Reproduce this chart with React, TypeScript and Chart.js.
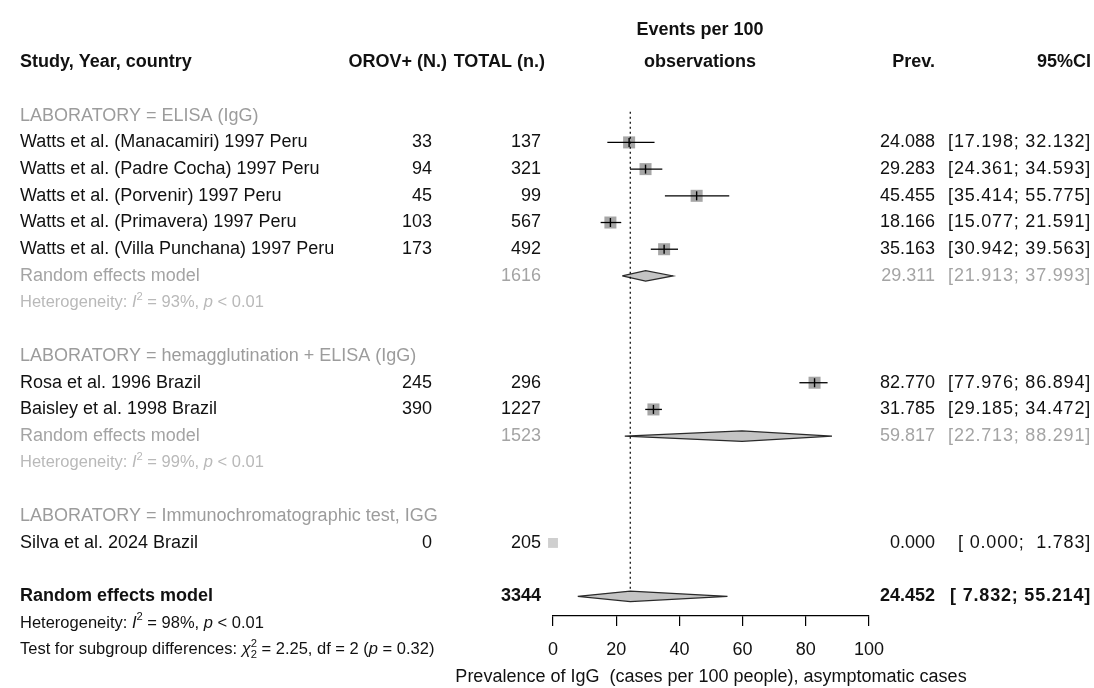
import { useEffect, useRef } from "react";
import { Chart, registerables } from "chart.js";

Chart.register(...registerables);

const FAM = '"Liberation Sans", Arial, Helvetica, sans-serif';

// ---------- data ----------
const studyLabels = [
  "Watts et al. (Manacamiri) 1997 Peru",
  "Watts et al. (Padre Cocha) 1997 Peru",
  "Watts et al. (Porvenir) 1997 Peru",
  "Watts et al. (Primavera) 1997 Peru",
  "Watts et al. (Villa Punchana) 1997 Peru",
  "Rosa et al. 1996 Brazil",
  "Baisley et al. 1998 Brazil",
  "Silva et al. 2024 Brazil",
];
const studyGroup = [0, 0, 0, 0, 0, 1, 1, 2];
const studyEvents = [33, 94, 45, 103, 173, 245, 390, 0];
const studyTotals = [137, 321, 99, 567, 492, 296, 1227, 205];
const studyPrev = [24.088, 29.283, 45.455, 18.166, 35.163, 82.77, 31.785, 0.0];
const studyLower = [17.198, 24.361, 35.414, 15.077, 30.942, 77.976, 29.185, 0.0];
const studyUpper = [32.132, 34.593, 55.775, 21.591, 39.563, 86.894, 34.472, 1.783];

const groupLabels = [
  "LABORATORY = ELISA (IgG)",
  "LABORATORY = hemagglutination + ELISA (IgG)",
  "LABORATORY = Immunochromatographic test, IGG",
];
const groupTotals = [1616, 1523, 205];
const groupPrev = [29.311, 59.817, 0.0];
const groupLower = [21.913, 22.713, 0.0];
const groupUpper = [37.993, 88.291, 1.783];
const groupI2 = [93, 99, 0];
const groupHetP = ["< 0.01", "< 0.01", ""];

const overallLabel = "Random effects model";
const overallTotal = 3344;
const overallPrev = 24.452;
const overallLower = 7.832;
const overallUpper = 55.214;
const overallI2 = 98;
const overallHetP = "< 0.01";
const subgroupChi2 = "2.25";
const subgroupDf = 2;
const subgroupP = "0.32";

const xTicks = [0, 20, 40, 60, 80, 100];
const xTitle = "Prevalence of IgG  (cases per 100 people), asymptomatic cases";

// ---------- layout ----------
const W = 1094;
const H = 688;
const PLOT_L = 553;
const PLOT_R = 869;
const ROW0_Y = 112;
const ROW_H = 26.9;
const AXIS_Y = 616;
const TOP_PAD = 4;
const Y_MIN = (TOP_PAD - ROW0_Y) / ROW_H;
const Y_MAX = (AXIS_Y - ROW0_Y) / ROW_H;
const DH = 5.3 / ROW_H; // diamond half height in rows

const X_LEFT = 20;
const X_EVENTS = 432;
const X_EVENTS_HEAD = 447;
const X_TOTAL = 541;
const X_TOTAL_HEAD = 545;
const X_SMLAB = 700;
const X_PREV = 935;
const X_CI = 1091;

const FS = 18;
const FS_HET = 16.5;
const BLACK = "#111111";
const GREY_LAB = "#9c9c9c";
const GREY_RE = "#a4a4a4";
const GREY_HET = "#b9b9b9";

const f = (size: number, weight = "normal", italic = false) =>
  `${italic ? "italic " : ""}${weight} ${size}px ${FAM}`;

const fmt = (v: number) => v.toFixed(3);
const pad = (s: string, n: number) => (s.length < n ? " ".repeat(n - s.length) + s : s);
const ciText = (lo: number, hi: number) => `[${pad(fmt(lo), 6)}; ${pad(fmt(hi), 6)}]`;

// ---------- rows ----------
type Row = { kind: string; idx: number; r: number };
const rows: Row[] = [];
const studyRow: number[] = [];
const groupRERow: number[] = [];
{
  let r = 0;
  groupLabels.forEach((_, g) => {
    rows.push({ kind: "group", idx: g, r: r++ });
    const members = studyLabels.map((_, i) => i).filter((i) => studyGroup[i] === g);
    members.forEach((i) => {
      studyRow[i] = r;
      rows.push({ kind: "study", idx: i, r: r++ });
    });
    if (members.length > 1) {
      groupRERow[g] = r;
      rows.push({ kind: "re", idx: g, r: r++ });
      rows.push({ kind: "het", idx: g, r: r++ });
    } else {
      groupRERow[g] = -1;
    }
    r++;
  });
  rows.push({ kind: "overall", idx: 0, r: r });
  rows.push({ kind: "ohet", idx: 0, r: r + 1 });
  rows.push({ kind: "test", idx: 0, r: r + 2 });
}
const overallRow = rows.find((x) => x.kind === "overall")!.r;

type Part = { t: string; font: string; dy?: number; noAdvance?: boolean };
function drawParts(
  ctx: CanvasRenderingContext2D,
  parts: Part[],
  x: number,
  y: number,
  align: "left" | "right" | "center",
  color: string,
  spacing = 0
) {
  const c: any = ctx;
  c.letterSpacing = spacing + "px";
  let total = 0;
  parts.forEach((p) => {
    ctx.font = p.font;
    if (!p.noAdvance) total += ctx.measureText(p.t).width;
  });
  let cx = align === "left" ? x : align === "right" ? x - total : x - total / 2;
  ctx.fillStyle = color;
  ctx.textBaseline = "middle";
  ctx.textAlign = "left";
  parts.forEach((p) => {
    ctx.font = p.font;
    ctx.fillText(p.t, cx, y + (p.dy || 0));
    if (!p.noAdvance) cx += ctx.measureText(p.t).width;
  });
  c.letterSpacing = "0px";
}
function txt(
  ctx: CanvasRenderingContext2D,
  t: string,
  x: number,
  y: number,
  align: "left" | "right" | "center",
  font: string,
  color: string,
  spacing = 0
) {
  drawParts(ctx, [{ t, font }], x, y, align, color, spacing);
}

const CI_SP = 0.8;

function hetParts(i2: number, p: string, size: number): Part[] {
  return [
    { t: "Heterogeneity: ", font: f(size) },
    { t: "I", font: f(size, "normal", true) },
    { t: "2", font: f(size * 0.68), dy: -6 },
    { t: ` = ${i2}%, `, font: f(size) },
    { t: "p", font: f(size, "normal", true) },
    { t: ` ${p}`, font: f(size) },
  ];
}

const textPlugin = {
  id: "forestText",
  beforeDraw(chart: any) {
    const ctx = chart.ctx as CanvasRenderingContext2D;
    ctx.save();
    ctx.fillStyle = "#ffffff";
    ctx.fillRect(0, 0, chart.width, chart.height);
    ctx.restore();
  },
  afterDraw(chart: any) {
    const ctx = chart.ctx as CanvasRenderingContext2D;
    const ys = chart.scales.y;
    const Y = (r: number) => ys.getPixelForValue(r);
    ctx.save();
    // headers
    const hb = f(FS, "bold");
    txt(ctx, "Study, Year, country", X_LEFT, Y(-2), "left", hb, BLACK);
    txt(ctx, "OROV+ (N.)", X_EVENTS_HEAD, Y(-2), "right", hb, BLACK);
    txt(ctx, "TOTAL (n.)", X_TOTAL_HEAD, Y(-2), "right", hb, BLACK);
    txt(ctx, "Events per 100", X_SMLAB, Y(-3.2), "center", hb, BLACK);
    txt(ctx, "observations", X_SMLAB, Y(-2), "center", hb, BLACK);
    txt(ctx, "Prev.", X_PREV, Y(-2), "right", hb, BLACK);
    txt(ctx, "95%CI", X_CI, Y(-2), "right", hb, BLACK);

    rows.forEach((row) => {
      const y = Y(row.r);
      if (row.kind === "group") {
        txt(ctx, groupLabels[row.idx], X_LEFT, y, "left", f(FS), GREY_LAB);
      } else if (row.kind === "study") {
        const i = row.idx;
        const fn = f(FS);
        txt(ctx, studyLabels[i], X_LEFT, y, "left", fn, BLACK);
        txt(ctx, String(studyEvents[i]), X_EVENTS, y, "right", fn, BLACK);
        txt(ctx, String(studyTotals[i]), X_TOTAL, y, "right", fn, BLACK);
        txt(ctx, fmt(studyPrev[i]), X_PREV, y, "right", fn, BLACK);
        txt(ctx, ciText(studyLower[i], studyUpper[i]), X_CI, y, "right", fn, BLACK, CI_SP);
      } else if (row.kind === "re") {
        const g = row.idx;
        const fn = f(FS);
        txt(ctx, "Random effects model", X_LEFT, y, "left", fn, GREY_RE);
        txt(ctx, String(groupTotals[g]), X_TOTAL, y, "right", fn, GREY_RE);
        txt(ctx, fmt(groupPrev[g]), X_PREV, y, "right", fn, GREY_RE);
        txt(ctx, ciText(groupLower[g], groupUpper[g]), X_CI, y, "right", fn, GREY_RE, CI_SP);
      } else if (row.kind === "het") {
        drawParts(ctx, hetParts(groupI2[row.idx], groupHetP[row.idx], FS_HET), X_LEFT, y, "left", GREY_HET);
      } else if (row.kind === "overall") {
        const fb = f(FS, "bold");
        txt(ctx, overallLabel, X_LEFT, y, "left", fb, BLACK);
        txt(ctx, String(overallTotal), X_TOTAL, y, "right", fb, BLACK);
        txt(ctx, fmt(overallPrev), X_PREV, y, "right", fb, BLACK);
        txt(ctx, ciText(overallLower, overallUpper), X_CI, y, "right", fb, BLACK, CI_SP);
      } else if (row.kind === "ohet") {
        drawParts(ctx, hetParts(overallI2, overallHetP, FS_HET), X_LEFT, y, "left", BLACK);
      } else if (row.kind === "test") {
        const s = FS_HET;
        drawParts(
          ctx,
          [
            { t: "Test for subgroup differences: ", font: f(s) },
            { t: "χ", font: f(s, "normal", true) },
            { t: "2", font: f(s * 0.68), dy: -6, noAdvance: true },
            { t: "2", font: f(s * 0.68), dy: 5 },
            { t: ` = ${subgroupChi2}, df = ${subgroupDf} (`, font: f(s) },
            { t: "p", font: f(s, "normal", true) },
            { t: ` = ${subgroupP})`, font: f(s) },
          ],
          X_LEFT,
          y,
          "left",
          BLACK
        );
      }
    });

    // axis title
    txt(ctx, xTitle, (chart.chartArea.left + chart.chartArea.right) / 2, 677, "center", f(FS), BLACK);
    ctx.restore();
  },
};

export default function App() {
  const ref = useRef<HTMLCanvasElement | null>(null);
  useEffect(() => {
    if (!ref.current) return;
    Chart.defaults.font.family = FAM;
    Chart.defaults.color = BLACK;

    const datasets: any[] = [];

    // squares
    datasets.push({
      label: "squares",
      data: studyPrev.map((p, i) => ({ x: p, y: studyRow[i] })),
      pointStyle: "rect",
      pointRadius: (c: any) => (studyEvents[c.dataIndex] === 0 ? 7 : 8.5),
      pointBackgroundColor: (c: any) => (studyEvents[c.dataIndex] === 0 ? "#cfcfcf" : "#a6a6a6"),
      pointBorderWidth: 0,
      showLine: false,
      clip: false,
      order: 10,
    });

    // CI lines
    studyPrev.forEach((_, i) => {
      if (studyUpper[i] - studyLower[i] < 3) return;
      datasets.push({
        label: "ci" + i,
        data: [
          { x: studyLower[i], y: studyRow[i] },
          { x: studyUpper[i], y: studyRow[i] },
        ],
        showLine: true,
        borderColor: "#000",
        borderWidth: 1.3,
        pointRadius: 0,
        clip: false,
        order: 6,
      });
    });

    // estimate marks
    const markIdx = studyPrev.map((_, i) => i).filter((i) => studyUpper[i] - studyLower[i] >= 3);
    datasets.push({
      label: "marks",
      data: markIdx.map((i) => ({ x: studyPrev[i], y: studyRow[i] })),
      pointStyle: "line",
      pointRotation: 90,
      pointRadius: 4.5,
      pointBorderColor: "#000",
      pointBorderWidth: 1.4,
      showLine: false,
      clip: false,
      order: 5,
    });

    // subgroup diamonds
    const diamond = (lo: number, est: number, hi: number, r: number) => [
      { x: lo, y: r },
      { x: est, y: r - DH },
      { x: hi, y: r },
      { x: est, y: r + DH },
      { x: lo, y: r },
    ];
    groupLabels.forEach((_, g) => {
      if (groupRERow[g] < 0) return;
      datasets.push({
        label: "diamond" + g,
        data: diamond(groupLower[g], groupPrev[g], groupUpper[g], groupRERow[g]),
        showLine: true,
        fill: "shape",
        backgroundColor: "#c4c4c4",
        borderColor: "#2a2a2a",
        borderWidth: 1.2,
        pointRadius: 0,
        tension: 0,
        clip: false,
        order: 6,
      });
    });
    datasets.push({
      label: "overall",
      data: diamond(overallLower, overallPrev, overallUpper, overallRow),
      showLine: true,
      fill: "shape",
      backgroundColor: "#c4c4c4",
      borderColor: "#2a2a2a",
      borderWidth: 1.2,
      pointRadius: 0,
      tension: 0,
      clip: false,
      order: 6,
    });

    // reference dotted line
    datasets.push({
      label: "ref",
      data: [
        { x: overallPrev, y: -0.15 },
        { x: overallPrev, y: overallRow - DH },
      ],
      showLine: true,
      borderColor: "#000",
      borderWidth: 1.2,
      borderDash: [2, 3],
      pointRadius: 0,
      clip: false,
      order: 1,
    });

    const chart = new Chart(ref.current, {
      type: "scatter",
      data: { datasets },
      options: {
        responsive: false,
        animation: false,
        events: [],
        layout: { padding: { left: PLOT_L, right: W - PLOT_R, top: TOP_PAD, bottom: 0 } },
        plugins: { legend: { display: false }, tooltip: { enabled: false } },
        scales: {
          x: {
            type: "linear",
            min: 0,
            max: 100,
            position: "bottom",
            afterBuildTicks: (s: any) => {
              s.ticks = xTicks.map((v) => ({ value: v }));
            },
            afterFit: (s: any) => {
              s.height = H - AXIS_Y;
            },
            ticks: { font: { size: FS, family: FAM }, color: BLACK, padding: 13, maxRotation: 0 },
            grid: {
              drawOnChartArea: false,
              drawTicks: true,
              tickLength: 10,
              color: "#000",
              lineWidth: 1.2,
            },
            border: { display: true, color: "#000", width: 1.2 },
          },
          y: {
            type: "linear",
            display: false,
            reverse: true,
            min: Y_MIN,
            max: Y_MAX,
          },
        },
      } as any,
      plugins: [textPlugin],
    });
    return () => chart.destroy();
  }, []);

  return (
    <div style={{ position: "absolute", left: 0, top: 0, width: W, height: H, background: "#fff" }}>
      <canvas ref={ref} width={W} height={H} style={{ display: "block" }} />
    </div>
  );
}
